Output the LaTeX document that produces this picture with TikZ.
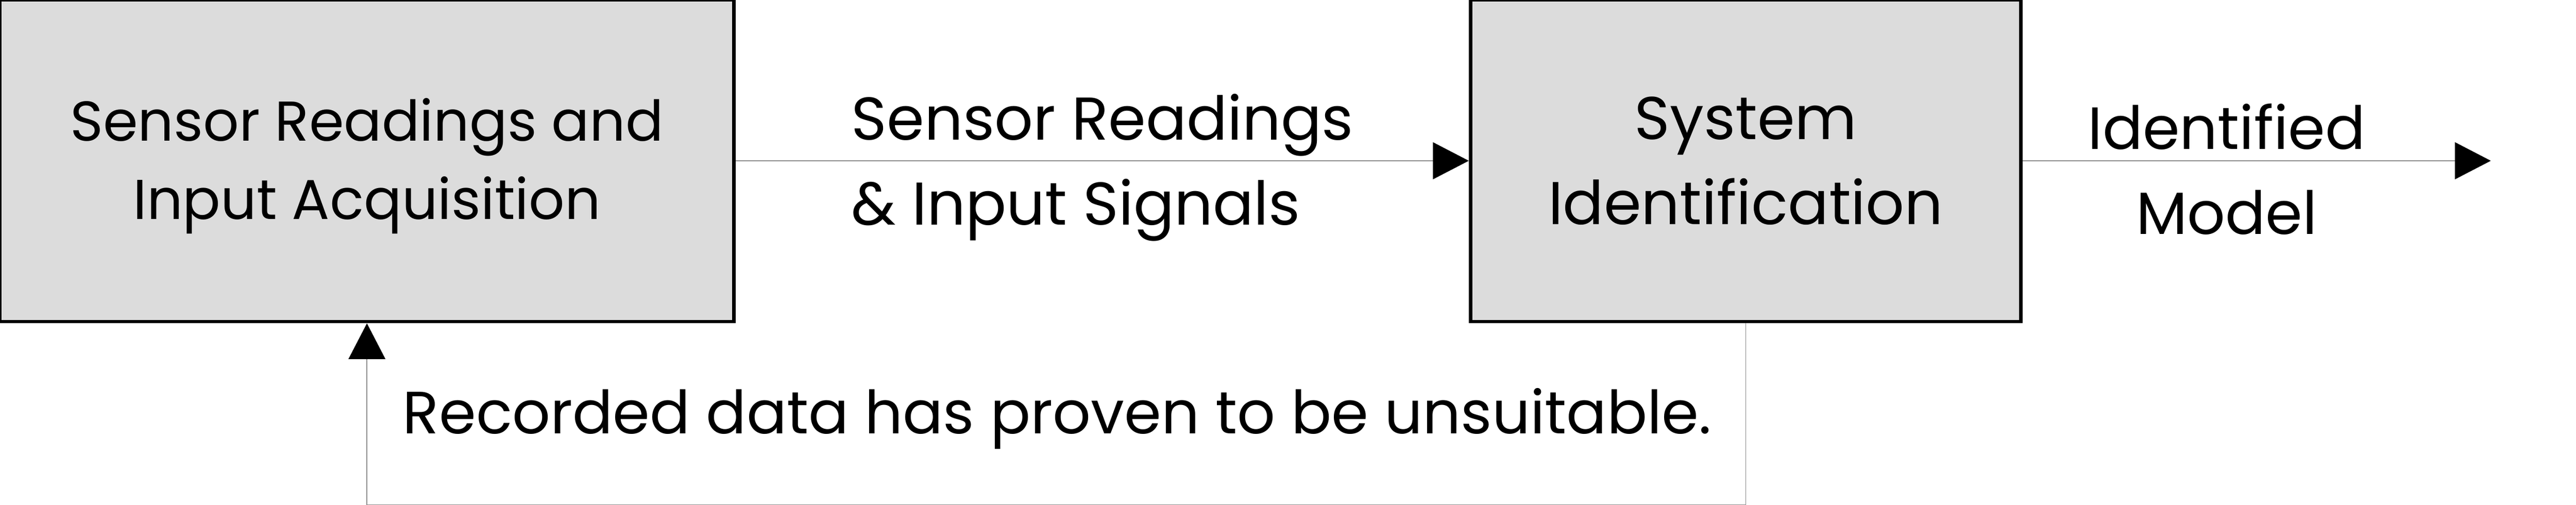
\documentclass[tikz,border=0pt]{standalone}
\usepackage{fontspec}
\setmainfont{Poppins}
\usepackage{tikz}
\usetikzlibrary{arrows.meta}
\tikzset{>={Triangle[length=1cm,width=1.03cm,color=black]},font=\fontsize{48}{67.7}\selectfont}
\tikzset{block/.style={draw=black,line width=0.1cm,fill={rgb,255:red,220;green,220;blue,220},minimum width=20.5cm,minimum height=8.98cm,inner sep=0pt,align=center}}

\begin{document}
\begin{tikzpicture}
\useasboundingbox (0,0) rectangle (71.96,-14.10);
\node[block,minimum width=20.5cm,text depth=0.12cm,font=\fontsize{44.6}{62.3}\selectfont] (acq) at (10.25,-4.49) {Sensor Readings and\\Input Acquisition};
\node[block,minimum width=15.37cm] (sysid) at (48.765,-4.49) {System\\Identification};
\coordinate (out) at (69.58,-4.49);
\node[anchor=base west,align=left] (sig) at (23.66,-6.28) {Sensor Readings\\\& Input Signals};
\node[anchor=base,align=center,font=\fontsize{47.3}{67.7}\selectfont] (mod) at (62.2,-6.54) {Identified\\Model};
\node[anchor=base west,font=\fontsize{47.4}{67.7}\selectfont] (fb) at (11.13,-12.11) {Recorded data has proven to be unsuitable.};
\path[->,draw=black!45,line width=0.025cm] (acq) edge (sysid);
\path[->,draw=black!45,line width=0.025cm] (sysid) edge (out);
\draw[->,draw=black!45,line width=0.025cm] (sysid.south) -- ++(0,-5.07) -| (acq.south);
\end{tikzpicture}
\end{document}
